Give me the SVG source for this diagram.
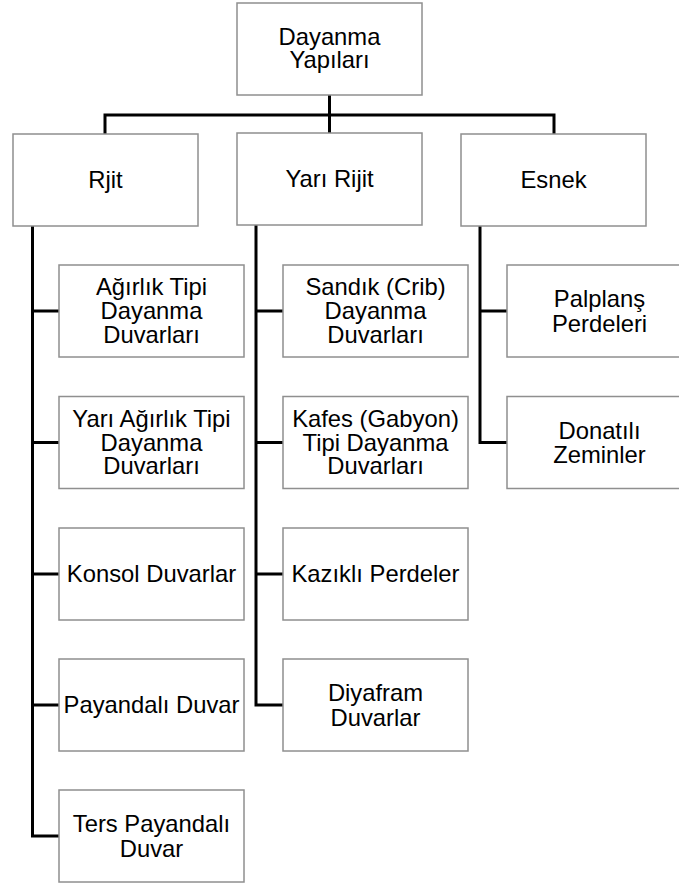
<svg xmlns="http://www.w3.org/2000/svg" width="679" height="885" viewBox="0 0 679 885">
<style>
.box{fill:#fff;stroke:#8f8f8f;stroke-width:1.5}
.t{font-family:"Liberation Sans",Arial,sans-serif;font-size:23.8px;fill:#000;text-anchor:middle}
.c{fill:none;stroke:#000;stroke-width:3;stroke-linejoin:miter;stroke-linecap:butt}
</style>
<rect width="679" height="885" fill="#fff"/>
<g id="connectors">
<path class="c" d="M329.5 95V133M105 134V115H554V134"/>
<path class="c" d="M32.5 226V836H59M32.5 311H59M32.5 442.5H59M32.5 574H59M32.5 705H59"/>
<path class="c" d="M256 225V705H283M256 311H283M256 442.5H283M256 574H283"/>
<path class="c" d="M480 226V442.5H507M480 311H507"/>
</g>
<g id="n-root"><rect class="box" x="237" y="3" width="185" height="92"/><text class="t" x="329.5" y="44.5">Dayanma<tspan x="329.5" dy="23.5">Yapıları</tspan></text></g>
<g id="n-rjit"><rect class="box" x="13" y="134" width="185" height="92"/><text class="t" x="105.5" y="188.3">Rjit</text></g>
<g id="n-yaririjit"><rect class="box" x="237" y="133" width="185" height="92"/><text class="t" x="329.5" y="187.3">Yarı Rijit</text></g>
<g id="n-esnek"><rect class="box" x="461" y="134" width="185" height="92"/><text class="t" x="553.5" y="188.3">Esnek</text></g>
<g id="n-agirlik"><rect class="box" x="59" y="265" width="185" height="92"/><text class="t" x="151.5" y="295.3">Ağırlık Tipi<tspan x="151.5" dy="23.7">Dayanma</tspan><tspan x="151.5" dy="23.7">Duvarları</tspan></text></g>
<g id="n-yariagirlik"><rect class="box" x="59" y="396.5" width="185" height="92"/><text class="t" x="151.5" y="426.8">Yarı Ağırlık Tipi<tspan x="151.5" dy="23.7">Dayanma</tspan><tspan x="151.5" dy="23.7">Duvarları</tspan></text></g>
<g id="n-konsol"><rect class="box" x="59" y="528" width="185" height="92"/><text class="t" x="151.5" y="582.3">Konsol Duvarlar</text></g>
<g id="n-payandali"><rect class="box" x="59" y="659" width="185" height="92"/><text class="t" x="151.5" y="713.3">Payandalı Duvar</text></g>
<g id="n-terspayandali"><rect class="box" x="59" y="790" width="185" height="92"/><text class="t" x="151.5" y="832">Ters Payandalı<tspan x="151.5" dy="24.5">Duvar</tspan></text></g>
<g id="n-sandik"><rect class="box" x="283" y="265" width="185" height="92"/><text class="t" x="375.5" y="295.3">Sandık (Crib)<tspan x="375.5" dy="23.7">Dayanma</tspan><tspan x="375.5" dy="23.7">Duvarları</tspan></text></g>
<g id="n-kafes"><rect class="box" x="283" y="396.5" width="185" height="92"/><text class="t" x="375.5" y="426.8">Kafes (Gabyon)<tspan x="375.5" dy="23.7">Tipi Dayanma</tspan><tspan x="375.5" dy="23.7">Duvarları</tspan></text></g>
<g id="n-kazikli"><rect class="box" x="283" y="528" width="185" height="92"/><text class="t" x="375.5" y="582.3">Kazıklı Perdeler</text></g>
<g id="n-diyafram"><rect class="box" x="283" y="659" width="185" height="92"/><text class="t" x="375.5" y="701">Diyafram<tspan x="375.5" dy="24.5">Duvarlar</tspan></text></g>
<g id="n-palplans"><rect class="box" x="507" y="265" width="185" height="92"/><text class="t" x="599.5" y="307">Palplanş<tspan x="599.5" dy="24.5">Perdeleri</tspan></text></g>
<g id="n-donatili"><rect class="box" x="507" y="396.5" width="185" height="92"/><text class="t" x="599.5" y="438.5">Donatılı<tspan x="599.5" dy="24.5">Zeminler</tspan></text></g>
</svg>
